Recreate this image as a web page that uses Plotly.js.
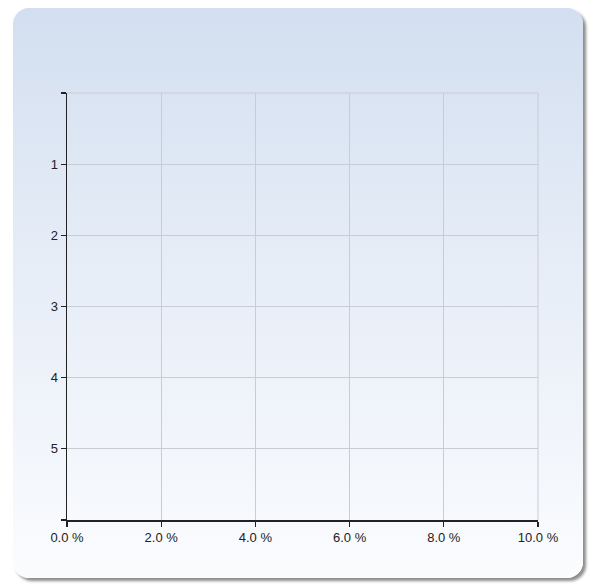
<!DOCTYPE html>
<html>
<head>
<meta charset="utf-8">
<script src="https://cdn.plot.ly/plotly-3.0.1.min.js"></script>
<style>
  html, body { margin: 0; padding: 0; background: #ffffff; }
  #frame {
    position: absolute; left: 13px; top: 8px; width: 570px; height: 570px;
    border-radius: 16px;
    background: linear-gradient(to bottom, #d3dff0 0%, #e6edf7 45%, #fbfcfe 100%);
    box-shadow: 3px 3px 3px rgba(0,0,0,0.45);
  }
  #chart { position: absolute; left: 0; top: 0; width: 589px; height: 585px; }
</style>
</head>
<body>
<div id="frame"></div>
<div id="chart"></div>
<script>
// Categories (rows) and their percentage values (empty chart: no visible bars)
var categories = [1, 2, 3, 4, 5];
var values = [null, null, null, null, null];
var yTickVals = [0, 1, 2, 3, 4, 5, 6];
var yTickText = ['', '1', '2', '3', '4', '5', ''];
var xTickVals = [0, 2, 4, 6, 8, 10];
var xTickText = ['0.0 %', '2.0 %', '4.0 %', '6.0 %', '8.0 %', '10.0 %'];

var trace = {
  type: 'bar',
  orientation: 'h',
  x: values,
  y: categories,
  marker: { color: '#4f81bd' },
  hoverinfo: 'skip',
  showlegend: false
};

var layout = {
  width: 589, height: 585,
  margin: { l: 67, r: 51, t: 93, b: 65, pad: 0 },
  paper_bgcolor: 'rgba(0,0,0,0)',
  plot_bgcolor: 'rgba(0,0,0,0)',
  font: { family: 'Liberation Sans, Arial, sans-serif', size: 13, color: '#222222' },
  showlegend: false,
  xaxis: {
    range: [0, 10],
    tickvals: xTickVals,
    ticktext: xTickText,
    ticks: 'outside', ticklen: 5, tickwidth: 1.2, tickcolor: '#222',
    showline: true, linecolor: '#222', linewidth: 1.5,
    showgrid: true, gridcolor: '#c9cdd3', gridwidth: 1,
    zeroline: false, fixedrange: true,
    tickfont: { size: 13, color: '#222' }
  },
  yaxis: {
    range: [6, 0],
    tickvals: yTickVals,
    ticktext: yTickText,
    ticks: 'outside', ticklen: 5, tickwidth: 1.2, tickcolor: '#222',
    showline: true, linecolor: '#222', linewidth: 1.5,
    showgrid: true, gridcolor: '#c9cdd3', gridwidth: 1,
    zeroline: false, fixedrange: true,
    tickfont: { size: 13, color: '#222' }
  },
  shapes: [
    { type: 'line', xref: 'paper', yref: 'paper', x0: 0, x1: 1, y0: 1, y1: 1,
      line: { color: '#c9cdd3', width: 1 }, layer: 'below' },
    { type: 'line', xref: 'paper', yref: 'paper', x0: 1, x1: 1, y0: 0, y1: 1,
      line: { color: '#c9cdd3', width: 1 }, layer: 'below' }
  ]
};

Plotly.newPlot('chart', [trace], layout, { displayModeBar: false, staticPlot: true });
</script>
</body>
</html>
